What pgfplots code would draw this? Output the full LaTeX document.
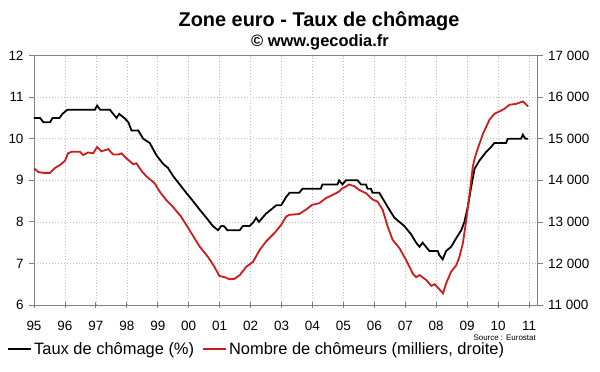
\documentclass[border=0pt]{standalone}
\usepackage{pgfplots}
\pgfplotsset{compat=1.18}
\usepackage{fontspec}
\setmainfont{Liberation Sans}
\definecolor{myred}{RGB}{204,28,28}
\definecolor{axgray}{RGB}{128,128,128}
\definecolor{gridgray}{RGB}{190,190,190}
\begin{document}
\begin{tikzpicture}
\useasboundingbox (-34bp,-67bp) rectangle (566bp,305bp);
\pgfplotsset{
  common/.style={
    scale only axis, width=503.7bp, height=249.3bp,
    xmin=1995, xmax=2011.28,
    /pgf/number format/assume math mode=true,
    tick label style={font=\fontsize{13.5}{14}\selectfont, text=black},
    axis line style={axgray, line width=0.8bp},
    tick style={axgray, line width=0.8bp},
    major tick length=5bp,
  }
}
\begin{axis}[common,
  ymin=6, ymax=12, ytick={6,7,...,12},
  xtick={1995,1996,...,2011},
  xticklabels={95,96,97,98,99,00,01,02,03,04,05,06,07,08,09,10,11},
  xtick pos=left, ytick pos=left,
  xtick align=center, ytick align=outside,
  grid=major,
  grid style={gridgray, dash pattern=on 1.5bp off 1.5bp, line width=0.6bp},
  xticklabel style={yshift=-10bp},
  yticklabel style={xshift=-2bp},
]
\addplot[black, line width=1.8bp] coordinates {
(1995.00,10.5) (1995.20,10.5) (1995.30,10.4) (1995.52,10.4) (1995.60,10.5)
(1995.82,10.5) (1995.92,10.6) (1996.08,10.7) (1996.97,10.7) (1997.04,10.8)
(1997.14,10.7) (1997.45,10.7) (1997.56,10.6) (1997.67,10.5) (1997.75,10.6)
(1997.92,10.5) (1998.05,10.4) (1998.15,10.2) (1998.37,10.2) (1998.53,10.0)
(1998.74,9.9) (1998.96,9.6) (1999.17,9.4) (1999.33,9.3) (1999.50,9.1)
(1999.71,8.9) (1999.92,8.7) (2000.14,8.5) (2000.35,8.3) (2000.57,8.1)
(2000.78,7.9) (2000.95,7.8) (2001.05,7.9) (2001.14,7.9) (2001.25,7.8)
(2001.65,7.8) (2001.75,7.9) (2001.97,7.9) (2002.10,8.0) (2002.18,8.1)
(2002.27,8.0) (2002.50,8.2) (2002.67,8.3) (2002.83,8.4) (2002.99,8.4)
(2003.15,8.6) (2003.26,8.7) (2003.57,8.7) (2003.68,8.8) (2004.27,8.8)
(2004.32,8.9) (2004.81,8.9) (2004.86,9.0) (2004.97,8.9) (2005.08,9.0)
(2005.46,9.0) (2005.57,8.9) (2005.73,8.9) (2005.78,8.8) (2005.89,8.8)
(2005.94,8.7) (2006.16,8.7) (2006.32,8.5) (2006.48,8.3) (2006.65,8.1)
(2006.81,8.0) (2006.97,7.9) (2007.08,7.8) (2007.19,7.7) (2007.35,7.5)
(2007.46,7.4) (2007.56,7.5) (2007.67,7.4) (2007.78,7.3) (2008.05,7.3)
(2008.10,7.2) (2008.21,7.1) (2008.32,7.3) (2008.48,7.4) (2008.64,7.6)
(2008.81,7.8) (2008.91,8.0) (2009.02,8.36) (2009.13,8.84) (2009.24,9.28)
(2009.40,9.48) (2009.61,9.68) (2009.77,9.8) (2009.88,9.9) (2010.26,9.9)
(2010.31,10.0) (2010.74,10.0) (2010.80,10.1) (2010.88,10.0) (2010.97,10.0)
};
\end{axis}
\begin{axis}[common,
  axis x line=none, axis y line*=right,
  ymin=11000, ymax=17000,
  ytick={11000,12000,...,17000},
  yticklabels={11 000,12 000,13 000,14 000,15 000,16 000,17 000},
  scaled y ticks=false,
  ytick scale label code/.code={},
  ytick align=outside,
  yticklabel style={xshift=2bp},
  legend columns=2,
  legend cell align=left,
  legend style={at={(-0.0536,-0.1765)}, anchor=west, draw=none, fill=none,
    inner sep=0pt, font=\fontsize{16.5}{18}\selectfont,
    nodes={inner sep=0pt},
    /tikz/every odd column/.append style={column sep=2bp},
    /tikz/every even column/.append style={column sep=8bp}},
  legend image code/.code={\draw[#1, line width=2bp] (0bp,0bp) -- (23bp,0bp);},
]
\addlegendimage{black}
\addlegendentry{Taux de chômage (\%)}
\addplot[myred, line width=1.8bp] coordinates {
(1995.00,14290) (1995.14,14200) (1995.30,14180) (1995.52,14180) (1995.68,14300)
(1995.84,14370) (1996.00,14470) (1996.10,14650) (1996.22,14690) (1996.48,14690)
(1996.59,14610) (1996.75,14670) (1996.91,14650) (1997.04,14800) (1997.18,14700)
(1997.40,14750) (1997.56,14620) (1997.72,14620) (1997.83,14650) (1997.99,14530)
(1998.20,14390) (1998.31,14410) (1998.47,14230) (1998.63,14100) (1998.90,13930)
(1999.06,13730) (1999.27,13530) (1999.48,13370) (1999.75,13130) (2000.02,12810)
(2000.35,12410) (2000.62,12160) (2000.83,11920) (2000.99,11700) (2001.16,11670)
(2001.32,11620) (2001.48,11630) (2001.65,11720) (2001.86,11920) (2002.08,12040)
(2002.29,12320) (2002.50,12530) (2002.77,12730) (2002.99,12930) (2003.15,13130)
(2003.26,13170) (2003.57,13190) (2003.78,13290) (2003.99,13410) (2004.22,13450)
(2004.43,13570) (2004.65,13650) (2004.86,13730) (2004.97,13810) (2005.08,13850)
(2005.18,13900) (2005.35,13860) (2005.51,13770) (2005.73,13690) (2005.94,13540)
(2006.10,13490) (2006.27,13290) (2006.43,12890) (2006.59,12570) (2006.81,12370)
(2007.02,12090) (2007.24,11760) (2007.35,11670) (2007.46,11720) (2007.57,11660)
(2007.68,11600) (2007.84,11460) (2007.95,11500) (2008.05,11420) (2008.22,11280)
(2008.32,11520) (2008.48,11800) (2008.65,11960) (2008.75,12160) (2008.86,12480)
(2008.97,13040) (2009.08,13680) (2009.18,14320) (2009.24,14520) (2009.34,14760)
(2009.51,15120) (2009.61,15280) (2009.72,15460) (2009.88,15600) (2010.10,15680)
(2010.20,15720) (2010.37,15820) (2010.58,15840) (2010.80,15900) (2010.97,15780)
};
\addlegendentry{Nombre de chômeurs (milliers, droite)}
\end{axis}
\node[anchor=base, font=\fontsize{20}{24}\selectfont\bfseries] at (285bp,278bp) {Zone euro - Taux de chômage};
\node[anchor=base, font=\fontsize{16.5}{18}\selectfont\bfseries] at (286bp,258bp) {© www.gecodia.fr};
\node[anchor=base west, font=\fontsize{8}{9}\selectfont] at (436bp,-35bp) {Source : Eurostat};
\end{tikzpicture}
\end{document}
